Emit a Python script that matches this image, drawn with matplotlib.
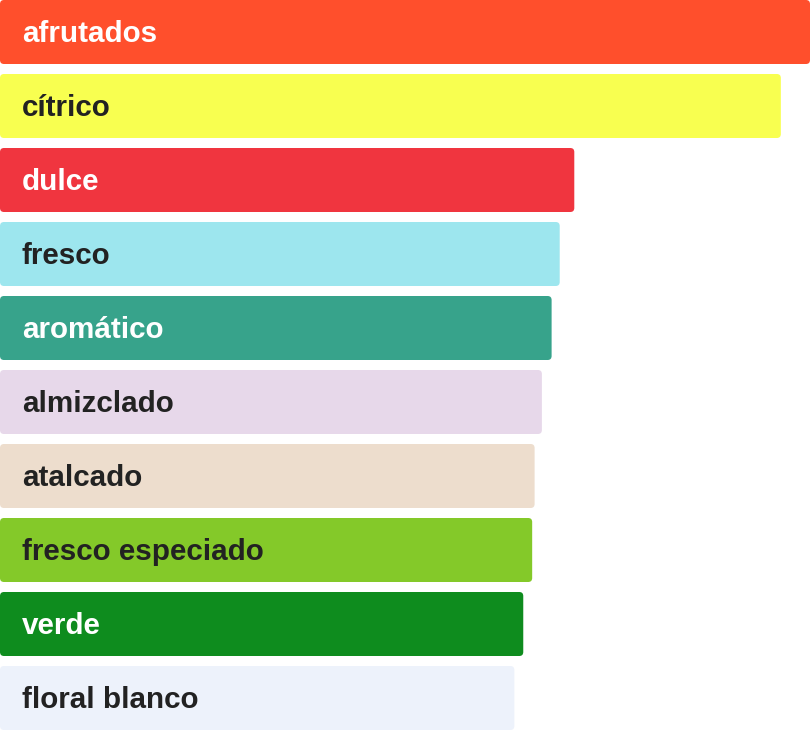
import matplotlib.pyplot as plt
from matplotlib.patches import FancyBboxPatch

categories = ['afrutados', 'cítrico', 'dulce', 'fresco', 'aromático',
              'almizclado', 'atalcado', 'fresco especiado', 'verde', 'floral blanco']
values = [100, 96.4, 70.9, 69.1, 68.1, 66.9, 66.0, 65.7, 64.6, 63.5]
colors = ['#FF4F2C', '#F8FF50', '#F0353F', '#9DE6EE', '#37A38B',
          '#E7D8EA', '#EDDDCD', '#84C929', '#0E8C1E', '#EDF2FB']
text_colors = ['white', '#222222', 'white', '#222222', 'white',
               '#222222', '#222222', '#222222', 'white', '#222222']

W, H = 810, 730
fig = plt.figure(figsize=(W / 100, H / 100), dpi=100)
ax = fig.add_axes([0, 0, 1, 1])
ax.axis('off')

step_px = 74
bar_h = 64 / step_px
ax.set_xlim(0, 100)
ax.set_ylim(len(categories) - 1 + bar_h / 2, -bar_h / 2)

px_x = 100 / W  # data units per pixel along x
aspect = (1 / step_px) / px_x

for i, (cat, v, c, tc) in enumerate(zip(categories, values, colors, text_colors)):
    box = FancyBboxPatch((0, i - bar_h / 2), v, bar_h,
                         boxstyle='round,pad=0,rounding_size=%f' % (4 * px_x),
                         mutation_aspect=aspect,
                         facecolor=c, edgecolor='none')
    ax.add_patch(box)
    ax.text(22 * px_x, i + 10 / step_px, cat, color=tc, fontsize=21.3, fontweight='bold',
            family=['Liberation Sans', 'DejaVu Sans'], va='baseline', ha='left')

fig.savefig('out.png', dpi=100)
